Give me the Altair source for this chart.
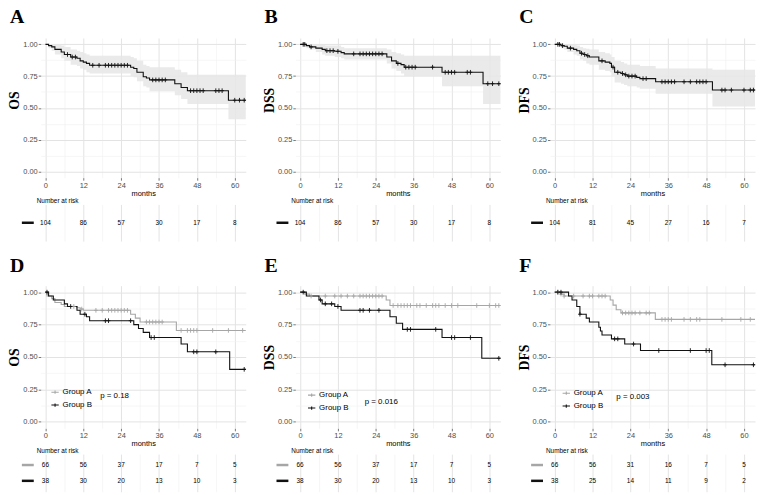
import altair as alt
import pandas as pd

# ---------------- data ----------------
END = 63.5  # end of follow-up drawn

# A: OS, all patients
A_t  = [0, 1, 2, 3, 5, 6, 8, 10, 11, 12, 13, 14, 27, 28, 29, 31, 32, 33, 41, 43, 45, 58, END]
A_s  = [1.0, .99, .98, .96, .94, .92, .90, .89, .87, .86, .85, .835, .82, .81, .78, .745, .735, .72, .69, .66, .635, .56, .56]
A_lo = [1.0, .97, .95, .92, .89, .87, .84, .83, .81, .80, .78, .77, .75, .74, .71, .67, .66, .63, .60, .57, .53, .41, .41]
A_hi = [1.0, 1.0, 1.0, 1.0, .99, .98, .96, .95, .94, .93, .92, .91, .90, .89, .87, .84, .83, .82, .80, .78, .76, .76, .76]
A_cens = [7, 8.5, 9.5, 15, 17, 19, 20, 21, 22, 23, 24, 25, 26, 34, 35, 36, 37, 38,
          46, 47, 48, 49, 50, 54, 55, 56, 60, 61.5, 63]

# B: DSS, all patients
B_t  = [0, 2, 3, 5, 7, 8, 11, 13, 14, 27.5, 29, 30.5, 32, 33, 45, 58, END]
B_s  = [1.0, .99, .98, .97, .96, .95, .945, .935, .925, .90, .87, .85, .84, .82, .78, .69, .69]
B_lo = [1.0, .97, .96, .94, .92, .91, .90, .89, .88, .85, .81, .79, .77, .75, .67, .53, .53]
B_hi = [1.0, 1.0, 1.0, 1.0, 1.0, .99, .99, .98, .97, .96, .94, .93, .92, .91, .91, .91, .91]
B_cens = [1, 1.5, 3.5, 8.5, 9.5, 10.5, 12, 17, 19, 20, 21, 22, 23, 24, 25, 26, 31, 33.5,
          34.5, 35.5, 36.5, 42, 46, 47, 48, 49, 53, 54, 59.5, 61, 63]

# C: DFS, all patients
C_t  = [0, 2, 3, 4, 6, 7, 8, 9, 10, 11, 14, 16, 17.5, 18, 19, 21, 22, 23, 26, 27, 32, 50, END]
C_s  = [1.0, .99, .985, .97, .96, .95, .93, .92, .91, .90, .87, .86, .85, .82, .78, .77, .76, .75, .74, .73, .705, .64, .64]
C_lo = [1.0, .97, .96, .94, .92, .91, .88, .87, .85, .84, .80, .79, .78, .75, .70, .69, .68, .67, .66, .65, .61, .51, .51]
C_hi = [1.0, 1.0, 1.0, 1.0, .995, .99, .98, .97, .965, .96, .94, .93, .92, .90, .87, .86, .85, .84, .84, .83, .81, .80, .80]
C_cens = [1, 1.5, 2.5, 5, 8.5, 9.5, 10.5, 15, 18.5, 20, 21.5, 22.5, 23.5, 24.5, 25.5, 28, 29,
          34, 35, 36, 37, 38, 41, 43, 45, 46, 47, 48, 53, 54, 56, 60, 62, 63]

# D: OS by group
DA_t = [0, 0.5, 2, 3, 5, 6, 10, 11, 12, 27, 28.5, 30, 41.5, END]
DA_s = [1.0, .97, .95, .92, .905, .89, .88, .87, .86, .83, .80, .77, .705, .705]
DB_t = [0, 1, 2.5, 6, 7, 10, 11, 13, 14, 28, 29.5, 31, 33, 43, 45, 58.4, END]
DB_s = [1.0, .97, .94, .91, .89, .86, .83, .81, .78, .75, .72, .69, .65, .60, .54, .405, .405]
DA_cens = [9, 11.5, 16, 18, 20, 21, 22, 23, 24, 25, 26, 32, 33, 34, 35, 36, 37, 43, 45, 46,
           47, 48, 53, 58, 62.5]
DB_cens = [0.5, 8, 12.5, 19, 20, 27, 33.5, 34.5, 47, 48, 54, 63]

# E: DSS by group
EA_t = [0, 1.5, 3, 27.3, 28.5, END]
EA_s = [1.0, .985, .97, .94, .897, .897]
EB_t = [0, 2, 6, 7, 11, 13, 28.5, 30.5, 32.5, 45, 57.6, END]
EB_s = [1.0, .97, .94, .91, .89, .86, .81, .76, .713, .65, .49, .49]
EA_cens = [3.5, 8, 11, 13, 15, 17, 19, 20, 21, 22, 23, 24, 25, 26, 29.5, 31, 32, 33, 34, 35,
           37, 38, 40, 42, 43, 44, 46, 48, 50, 56, 60, 62, 63]
EB_cens = [1, 6.5, 8, 10, 12, 19, 20, 22, 25, 34, 35, 43, 48, 49, 54, 63]

# F: DFS by group
FA_t = [0, 2, 3, 17.6, 18.5, 19.5, 21, 31.9, END]
FA_s = [1.0, .985, .97, .94, .90, .865, .84, .79, .79]
FB_t = [0, 4.4, 5.5, 7, 8, 10, 11, 14, 14.5, 15, 18, 22.2, 27.2, 49.8, END]
FB_s = [1.0, .97, .94, .89, .83, .80, .77, .73, .70, .67, .64, .60, .55, .44, .44]
FA_cens = [1, 2, 3, 6, 9, 11, 12, 14, 15, 16, 21.5, 22.5, 23.5, 24.5, 25.5, 27, 29, 30, 34,
           35, 36, 37, 41, 43, 45, 46, 53, 59, 62]
FB_cens = [1, 2, 8, 19, 20, 25, 33, 43, 48, 49, 54, 63]

# Numbers at risk
RISK_TIMES = [0, 12, 24, 36, 48, 60]
RISK_A = [104, 86, 57, 30, 17, 8]
RISK_B = [104, 86, 57, 30, 17, 8]
RISK_C = [104, 81, 45, 27, 16, 7]
RISK_D_A = [66, 56, 37, 17, 7, 5]
RISK_D_B = [38, 30, 20, 13, 10, 3]
RISK_E_A = [66, 56, 37, 17, 7, 5]
RISK_E_B = [38, 30, 20, 13, 10, 3]
RISK_F_A = [66, 56, 31, 16, 7, 5]
RISK_F_B = [38, 25, 14, 11, 9, 2]

PVALUES = ["p = 0.18", "p = 0.016", "p = 0.003"]
GROUPS = ["Group A", "Group B"]

# ---------------- styling ----------------
SANS = "Liberation Sans"
SERIF = "Liberation Serif"
GREY = "#a6a6a6"
BLACK = "#111111"
GRID_MAJ = "#e3e3e3"
GRID_MIN = "#f0f0f0"
X_DOMAIN = [-1.5, 63.5]
Y_DOMAIN = [-0.05, 1.05]
PW = 207
PLUS = "M0,-1V1M-0.8,0H0.8"

X_VALUES = list(range(0, 61, 6))
Y_VALUES = [i * 0.125 for i in range(9)]

GRID_COLOR_X = {"condition": {"test": "datum.value % 12 != 0", "value": GRID_MIN}, "value": GRID_MAJ}
GRID_WIDTH_X = {"condition": {"test": "datum.value % 12 != 0", "value": 0.6}, "value": 1}
GRID_COLOR_Y = {"condition": {"test": "datum.value % 0.25 != 0", "value": GRID_MIN}, "value": GRID_MAJ}
GRID_WIDTH_Y = {"condition": {"test": "datum.value % 0.25 != 0", "value": 0.6}, "value": 1}
TICK_COLOR_X = {"condition": {"test": "datum.value % 12 != 0", "value": "transparent"}, "value": "#555555"}
TICK_COLOR_Y = {"condition": {"test": "datum.value % 0.25 != 0", "value": "transparent"}, "value": "#555555"}


def step_value(ts, ss, c):
    v = ss[0]
    for t, s in zip(ts, ss):
        if t <= c:
            v = s
    return v


def km_x_axis(title_y):
    return alt.Axis(values=X_VALUES,
                    labelExpr="datum.value % 12 == 0 ? datum.label : ''",
                    title="months", titleFont=SANS, titleFontSize=7.5,
                    titleFontWeight="normal", titleColor="black",
                    titleY=title_y, titleBaseline="middle",
                    labelFont=SANS, labelFontSize=7.5, labelColor="#4d4d4d",
                    labelPadding=1, tickSize=2.5, tickWidth=0.8,
                    tickColor=TICK_COLOR_X, domain=False,
                    gridColor=GRID_COLOR_X, gridWidth=GRID_WIDTH_X)


def km_y_axis(title, title_y):
    return alt.Axis(values=Y_VALUES,
                    labelExpr="datum.value % 0.25 == 0 ? format(datum.value, '.2f') : ''",
                    title=title, titleFont=SERIF, titleFontSize=14,
                    titleFontWeight="bold", titleColor="black",
                    titleX=-26, titleY=title_y, titleAngle=-90,
                    titleBaseline="middle", titleAlign="center",
                    labelFont=SANS, labelFontSize=7.5, labelColor="#4d4d4d",
                    labelPadding=1, tickSize=2.5, tickWidth=0.8,
                    tickColor=TICK_COLOR_Y, domain=False,
                    gridColor=GRID_COLOR_Y, gridWidth=GRID_WIDTH_Y)


def build_panel(letter, ytitle, curves, censors, band, risk, pval, row, legend_pos, p_pos):
    top = row == "top"
    H = 141 if top else 144
    RH = 37 if top else 38
    XS = alt.Scale(domain=X_DOMAIN, nice=False, zero=False)
    YS = alt.Scale(domain=Y_DOMAIN, nice=False, zero=False)
    xax = km_x_axis(15.8 if top else 15)
    yax = km_y_axis(ytitle, 62.5 if top else 72)

    grouped = len(curves) > 1
    curve_rows = []
    for g, ts, ss in curves:
        for t, s in zip(ts, ss):
            curve_rows.append({"t": t, "s": s, "group": g})
    cdf = pd.DataFrame(curve_rows)
    cens_rows = []
    for (g, ts, ss), cl in zip(curves, censors):
        for c in cl:
            cens_rows.append({"t": c, "s": step_value(ts, ss, c), "group": g})
    pdf = pd.DataFrame(cens_rows)

    if grouped:
        leg = alt.Legend(orient="none", legendX=legend_pos[0], legendY=legend_pos[1],
                         title=None, symbolType="M-1,0H1M0,-0.45V0.45",
                         symbolSize=55, symbolStrokeWidth=1.1,
                         symbolFillColor="transparent",
                         labelFont=SANS, labelFontSize=8, labelColor="black",
                         labelOffset=3, rowPadding=4, padding=0)
        color = alt.Color("group:N", scale=alt.Scale(domain=GROUPS, range=[GREY, BLACK]),
                          legend=leg)
    else:
        color = alt.value(BLACK)

    layers = []
    if band is not None:
        bt, blo, bhi = band
        bdf = pd.DataFrame({"t": bt, "lo": blo, "hi": bhi})
        layers.append(alt.Chart(bdf).mark_area(interpolate="step-after", color="#e6e6e6",
                                               opacity=0.85).encode(
            x=alt.X("t:Q", scale=XS, axis=xax),
            y=alt.Y("lo:Q", scale=YS, axis=yax),
            y2="hi:Q"))
    layers.append(alt.Chart(cdf).mark_line(interpolate="step-after", strokeWidth=1.1).encode(
        x=alt.X("t:Q", scale=XS, axis=xax),
        y=alt.Y("s:Q", scale=YS, axis=yax),
        color=color, detail="group:N"))
    layers.append(alt.Chart(pdf).mark_point(shape=PLUS, filled=False, size=22,
                                            strokeWidth=0.9, opacity=1).encode(
        x=alt.X("t:Q", scale=XS, axis=xax),
        y=alt.Y("s:Q", scale=YS, axis=yax),
        color=color, detail="group:N"))
    if pval is not None:
        layers.append(alt.Chart(pd.DataFrame({"p": [pval]})).mark_text(
            align="left", baseline="middle", font=SANS, fontSize=8, color="black").encode(
            x=alt.value(p_pos[0]), y=alt.value(p_pos[1]), text="p:N"))

    km = alt.layer(*layers).properties(
        width=PW, height=H,
        title=alt.TitleParams(letter, anchor="start", frame="group", font=SERIF,
                              fontSize=20, fontWeight="bold", color="black",
                              baseline="alphabetic", dx=-31,
                              offset=-4.4 if top else -6))

    # risk table
    risk_rows = []
    line_rows = []
    for g, counts in risk:
        for t, n in zip(RISK_TIMES, counts):
            risk_rows.append({"t": t, "n": n, "group": g})
        line_rows.append({"group": g, "col": GREY if g == "Group A" else BLACK})
    rdf = pd.DataFrame(risk_rows)
    ldf = pd.DataFrame(line_rows)
    gdom = [g for g, _ in risk]
    RYS = alt.Scale(type="point", domain=gdom, padding=0.69 if len(gdom) > 1 else 0.5)
    rx_axis = alt.Axis(values=X_VALUES, labels=False, ticks=False, domain=False, title=None,
                       gridColor=GRID_COLOR_X, gridWidth=GRID_WIDTH_X)
    rtext = alt.Chart(rdf).mark_text(font=SANS, fontSize=6.5, color="black").encode(
        x=alt.X("t:Q", scale=XS, axis=rx_axis),
        y=alt.Y("group:N", scale=RYS, axis=None),
        text="n:Q")
    rline = alt.Chart(ldf).mark_rule(strokeWidth=2.5).encode(
        x=alt.value(-19), x2=alt.value(-7),
        y=alt.Y("group:N", scale=RYS, axis=None),
        color=alt.Color("col:N", scale=None))
    riskc = alt.layer(rline, rtext).properties(
        width=PW, height=RH,
        title=alt.TitleParams("Number at risk", anchor="start", frame="group", font=SANS,
                              fontSize=6.5, fontWeight="normal", color="black",
                              baseline="bottom", dx=-4, offset=-6.5))

    return alt.vconcat(km, riskc, spacing=27 if top else 26, bounds="flush").resolve_scale(
        color="independent").resolve_legend(color="independent")


pA = build_panel("A", "OS", [("All", A_t, A_s)], [A_cens], (A_t, A_lo, A_hi),
                 [("All", RISK_A)], None, "top", None, None)
pB = build_panel("B", "DSS", [("All", B_t, B_s)], [B_cens], (B_t, B_lo, B_hi),
                 [("All", RISK_B)], None, "top", None, None)
pC = build_panel("C", "DFS", [("All", C_t, C_s)], [C_cens], (C_t, C_lo, C_hi),
                 [("All", RISK_C)], None, "top", None, None)
pD = build_panel("D", "OS", [("Group A", DA_t, DA_s), ("Group B", DB_t, DB_s)],
                 [DA_cens, DB_cens], None,
                 [("Group A", RISK_D_A), ("Group B", RISK_D_B)], PVALUES[0], "bottom",
                 (10, 103), (60, 111))
pE = build_panel("E", "DSS", [("Group A", EA_t, EA_s), ("Group B", EB_t, EB_s)],
                 [EA_cens, EB_cens], None,
                 [("Group A", RISK_E_A), ("Group B", RISK_E_B)], PVALUES[1], "bottom",
                 (12, 106), (70, 117))
pF = build_panel("F", "DFS", [("Group A", FA_t, FA_s), ("Group B", FB_t, FB_s)],
                 [FA_cens, FB_cens], None,
                 [("Group A", RISK_F_A), ("Group B", RISK_F_B)], PVALUES[2], "bottom",
                 (12, 104), (67, 112))

row1 = alt.hconcat(pA, pB, pC, spacing=14).resolve_scale(
    color="independent").resolve_legend(color="independent")
row2 = alt.hconcat(pD, pE, pF, spacing=14).resolve_scale(
    color="independent").resolve_legend(color="independent")

chart = alt.vconcat(row1, row2, spacing=15).resolve_scale(
    color="independent").resolve_legend(color="independent").properties(
    padding={"left": 0, "top": -4, "right": 0, "bottom": 0},
    background="white").configure_view(stroke=None)

chart.save("out.html", embed_options={"renderer": "svg", "actions": False})
